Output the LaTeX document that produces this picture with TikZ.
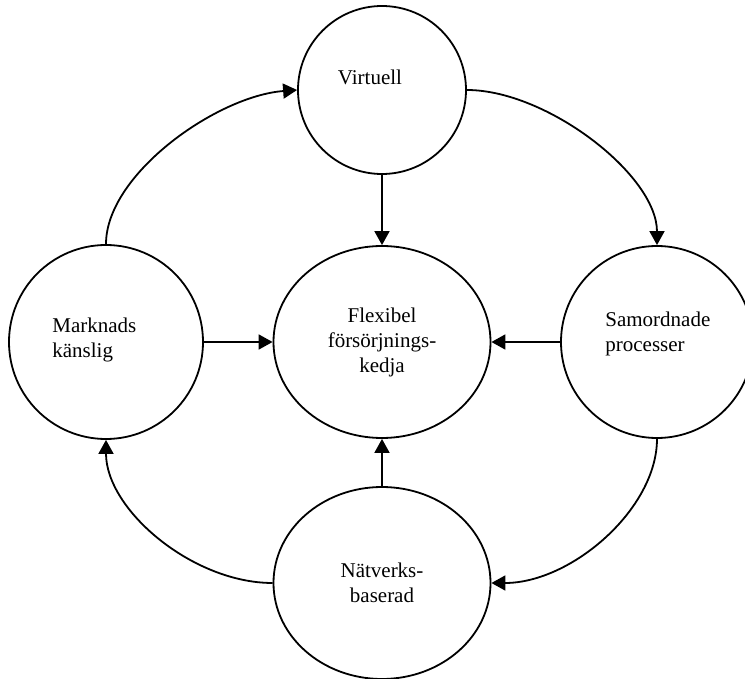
\documentclass[tikz,border=0pt]{standalone}
\usepackage{fontspec}
\setmainfont{Liberation Serif}
\usetikzlibrary{shapes.geometric,arrows.meta,positioning}

\begin{document}
\begin{tikzpicture}[x=0.5pt, y=-0.5pt,
  ring/.style={draw, circle, line width=0.9pt, inner sep=0pt},
  oval/.style={draw, ellipse, line width=0.9pt, inner sep=0pt,
    minimum width=108.5pt, minimum height=96pt, align=center},
  txt/.style={inner sep=0pt, align=left},
  arr/.style={line width=0.9pt, -{Triangle[length=7pt, width=7.5pt]}},
  every node/.style={font=\fontsize{10.5}{12.5}\selectfont}]
\useasboundingbox (0,0) rectangle (745,679);

\node [ring, minimum size=84pt] (virt) at (382, 90) {};
\node [ring, minimum size=97pt] (mark) at (106, 342) {};
\node [ring, minimum size=96pt] (samo) at (657, 342) {};
\node [oval] (flex) at (382, 342) {Flexibel\\försörjnings-\\kedja};
\node [oval] (natv) at (382, 583) {Nätverks-\\baserad};

\node [txt] (virt_t) at (370, 77) {Virtuell};
\node [txt, anchor=west] (mark_t) at (52, 340) {Marknads\\känslig};
\node [txt, anchor=west] (samo_t) at (605, 334) {Samordnade\\processer};

% ring round the outside
\draw [arr] (mark.north) .. controls +(0,-70) and +(-80,6) .. (virt.west);
\draw [arr] (virt.east) .. controls +(80,0) and +(0,-70) .. (samo.north);
\draw [arr] (samo.south) .. controls +(0,70) and +(80,0) .. (natv.east);
\draw [arr] (natv.west) .. controls +(-80,0) and +(0,70) .. (mark.south);

% into the middle
\draw [arr] (virt.south) -- (flex.north);
\draw [arr] (mark.east) -- (flex.west);
\draw [arr] (samo.west) -- (flex.east);
\draw [arr] (natv.north) -- (flex.south);
\end{tikzpicture}
\end{document}
